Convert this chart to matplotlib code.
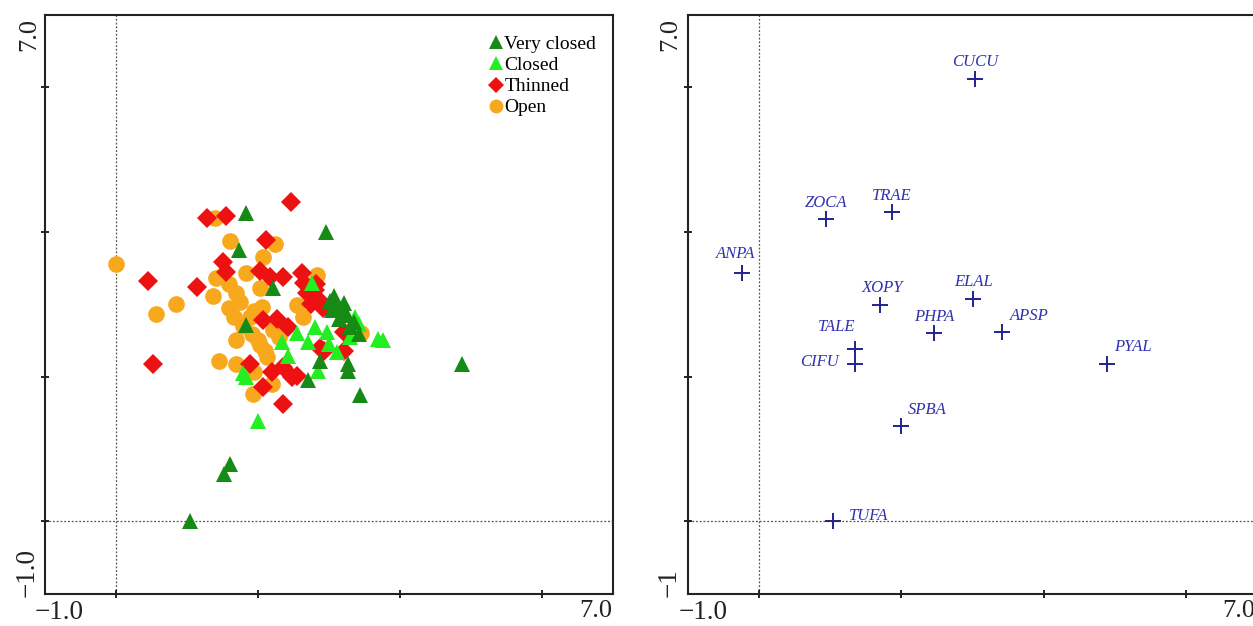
import matplotlib
matplotlib.use("Agg")
import matplotlib.pyplot as plt
from matplotlib.lines import Line2D

plt.rcParams['font.family'] = ['Liberation Serif', 'DejaVu Serif']

# ---------------- data: left panel (sample scores) ----------------
very_closed_x = [1.84, 2.96, 1.73, 2.21, 3.02, 3.12, 3.05, 3.18, 3.25, 3.15, 3.35, 3.30,
                 3.42, 2.88, 3.27, 3.27, 2.71, 3.44, 4.87, 1.61, 1.52, 1.05, 1.84, 3.08, 3.22]
very_closed_y = [4.26, 4.00, 3.75, 3.22, 3.05, 3.00, 2.92, 2.95, 2.85, 2.80, 2.75, 2.68,
                 2.59, 2.22, 2.18, 2.08, 1.95, 1.75, 2.18, 0.79, 0.65, 0.00, 2.71, 3.12, 3.02]

closed_x = [2.77, 3.37, 3.30, 3.70, 3.77, 2.81, 2.71, 2.34, 2.42, 3.12, 2.85, 1.84,
            2.01, 3.00, 2.55, 3.42, 2.98, 3.22, 1.80]
closed_y = [3.30, 2.82, 2.55, 2.52, 2.50, 2.68, 2.48, 2.48, 2.29, 2.34, 2.08, 1.99,
            1.39, 2.45, 2.60, 2.72, 2.62, 2.88, 2.05]

thinned_x = [0.46, 0.52, 1.15, 1.29, 1.56, 2.47, 2.12, 1.51, 1.56, 2.03, 2.17, 2.35,
             2.63, 2.70, 2.80, 2.75, 2.88, 2.92, 2.08, 2.27, 2.43, 2.93, 2.87, 3.21,
             3.21, 1.89, 2.20, 2.36, 2.48, 2.55, 2.08, 2.35, 2.65, 2.82]
thinned_y = [3.32, 2.18, 3.24, 4.19, 4.22, 4.42, 3.89, 3.59, 3.45, 3.46, 3.37, 3.38,
             3.43, 3.15, 3.20, 3.00, 3.05, 2.95, 2.78, 2.80, 2.68, 2.36, 2.40, 2.62,
             2.36, 2.18, 2.06, 2.13, 1.99, 2.01, 1.85, 1.62, 3.30, 3.28]

open_x = [0.00, 0.57, 0.85, 1.40, 1.61, 2.25, 2.07, 1.42, 1.59, 1.84, 2.03, 1.37,
          2.84, 1.75, 2.06, 1.66, 1.89, 2.55, 2.64, 2.22, 1.92, 1.70, 2.03, 2.13,
          1.45, 1.70, 1.95, 2.20, 1.93, 1.80, 1.95, 2.00, 2.10, 1.70, 3.05, 3.45,
          1.60, 2.30]
open_y = [3.56, 2.87, 3.00, 4.19, 3.88, 3.84, 3.66, 3.36, 3.28, 3.43, 3.23, 3.11,
          3.40, 3.03, 2.96, 2.82, 2.82, 2.99, 2.82, 2.64, 2.59, 2.50, 2.43, 2.27,
          2.22, 2.18, 2.07, 1.90, 1.76, 2.70, 2.90, 2.50, 2.35, 3.15, 3.00, 2.60,
          2.95, 2.55]

group_labels = ['Very closed', 'Closed', 'Thinned', 'Open']

# ---------------- data: right panel (species scores) ----------------
species = ['CUCU', 'ZOCA', 'TRAE', 'ANPA', 'XOPY', 'ELAL', 'PHPA', 'APSP',
           'TALE', 'CIFU', 'PYAL', 'SPBA', 'TUFA']
species_x = [3.04, 0.94, 1.86, -0.24, 1.70, 3.01, 2.46, 3.41, 1.35, 1.35, 4.89, 2.00, 1.04]
species_y = [6.11, 4.18, 4.28, 3.43, 2.99, 3.07, 2.60, 2.61, 2.38, 2.18, 2.18, 1.32, 0.00]

# label offsets (pixels, layout only)
label_off = {'CUCU': (0, 17), 'ZOCA': (0, 16), 'TRAE': (0, 16), 'ANPA': (-7, 19),
             'XOPY': (2, 17), 'ELAL': (0, 17), 'PHPA': (0, 16), 'APSP': (28, 16),
             'TALE': (-19, 22), 'CIFU': (-36, 2), 'PYAL': (26, 17), 'SPBA': (26, 16),
             'TUFA': (35, 5)}

# ---------------- figure ----------------
W, H = 1253, 626
fig = plt.figure(figsize=(W / 100, H / 100), dpi=100)

def px_axes(left, top, right, bottom):
    return fig.add_axes([left / W, 1 - bottom / H, (right - left) / W, (bottom - top) / H])

axL = px_axes(44.5, 15, 613, 593.5)
axR = px_axes(688.3, 15, 1256.8, 593.5)

tick_color = '#222222'
neg_one = '\u22121.0'
for ax in (axL, axR):
    ax.set_xlim(-1, 7)
    ax.set_ylim(-1, 7)
    ax.set_xticks([0, 2, 4, 6])
    ax.set_yticks([0, 2, 4, 6])
    ax.tick_params(direction='inout', length=6, width=1.2, labelbottom=False, labelleft=False)
    for s in ax.spines.values():
        s.set_linewidth(1.5)
        s.set_color('#222222')
    ax.axhline(0, color='#555555', lw=0.9, ls=(0, (1.5, 1.5)), zorder=0)
    ax.axvline(0, color='#555555', lw=0.9, ls=(0, (1.5, 1.5)), zorder=0)
    ax.text(-0.017, -0.012, neg_one, transform=ax.transAxes, ha='left', va='top',
            fontsize=19.5, color=tick_color)
    ax.text(0.998, -0.012, '7.0', transform=ax.transAxes, ha='right', va='top',
            fontsize=19, color=tick_color)

axL.text(-0.008, 0.995, '7.0', transform=axL.transAxes, rotation=90, ha='right', va='top',
         fontsize=19, color=tick_color)
axL.text(-0.008, -0.006, neg_one, transform=axL.transAxes, rotation=90, ha='right',
         va='bottom', fontsize=19.5, color=tick_color)
axR.text(-0.012, 0.995, '7.0', transform=axR.transAxes, rotation=90, ha='right', va='top',
         fontsize=19, color=tick_color)
axR.text(-0.012, -0.006, '\u22121', transform=axR.transAxes, rotation=90, ha='right',
         va='bottom', fontsize=19.5, color=tick_color)

c_vc, c_c, c_t, c_o = '#158a15', '#22ee22', '#ee1111', '#f8a81c'
ms = 12
axL.plot(open_x, open_y, 'o', color=c_o, ms=ms, mew=0, zorder=2)
axL.plot(thinned_x, thinned_y, 'D', color=c_t, ms=ms * 0.82, mew=0, zorder=3)
axL.plot(closed_x, closed_y, '^', color=c_c, ms=ms * 0.95, mew=0, zorder=4)
axL.plot(very_closed_x, very_closed_y, '^', color=c_vc, ms=ms * 0.95, mew=0, zorder=5)

handles = [Line2D([], [], ls='none', marker='^', color=c_vc, ms=10, mew=0),
           Line2D([], [], ls='none', marker='^', color=c_c, ms=10, mew=0),
           Line2D([], [], ls='none', marker='D', color=c_t, ms=8, mew=0),
           Line2D([], [], ls='none', marker='o', color=c_o, ms=10, mew=0)]
axL.legend(handles, group_labels, loc='upper left', bbox_to_anchor=(0.768, 0.978),
           frameon=False, handlelength=0.7, handletextpad=0.1, labelspacing=0.18,
           borderaxespad=0, fontsize=14)

# right panel
sp_color = '#23238f'
axR.plot(species_x, species_y, '+', color=sp_color, ms=12, mew=1.4, zorder=3)
for name, x, y in zip(species, species_x, species_y):
    dx, dy = label_off[name]
    axR.annotate(name, (x, y), xytext=(dx * 0.72, dy * 0.72), textcoords='offset points',
                 ha='center', va='center', fontsize=12, style='italic', color='#3030b0')

fig.savefig('out.png', dpi=100)
